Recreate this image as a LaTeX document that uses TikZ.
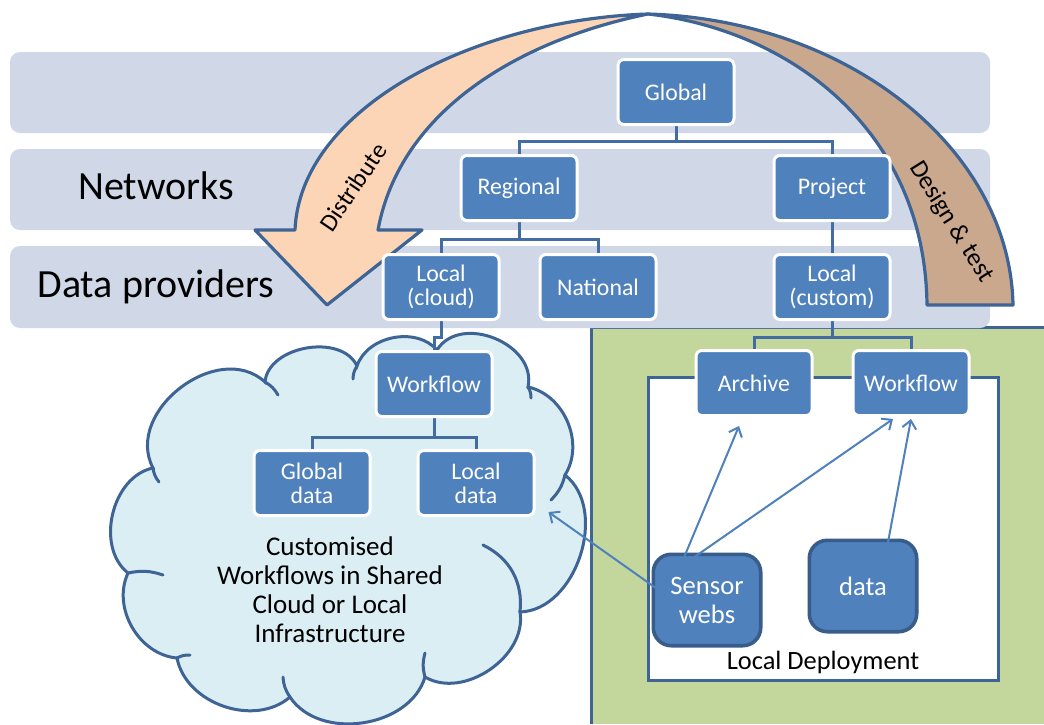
\documentclass[tikz,border=0pt]{standalone}
\usepackage{fontspec}
\setmainfont{Carlito}
\usetikzlibrary{arrows.meta,calc,positioning}
\definecolor{tierfill}{RGB}{208,216,232}
\definecolor{unitfill}{RGB}{79,129,189}
\definecolor{linkblue}{RGB}{66,108,162}
\definecolor{frameblue}{RGB}{62,100,150}
\definecolor{deviceedge}{RGB}{56,93,138}
\definecolor{distfill}{RGB}{251,213,181}
\definecolor{testfill}{RGB}{201,168,141}
\definecolor{sitefill}{RGB}{195,214,155}
\definecolor{cloudfill}{RGB}{219,238,244}
\tikzstyle{tier}=[
  fill=tierfill,
  rounded corners=5pt,
]
\tikzstyle{tiertext}=[
  anchor=base,
  font={\fontsize{20}{24}\selectfont},
]
\tikzstyle{unit}=[
  rectangle,
  rounded corners=3pt,
  draw=white,
  line width=1.5pt,
  fill=unitfill,
  text=white,
  align=center,
  inner sep=1pt,
  minimum width=58pt,
  minimum height=32.5pt,
  font={\fontsize{11.9}{12}\selectfont},
]
\tikzstyle{device}=[
  unit,
  draw=deviceedge,
  line width=1.8pt,
  rounded corners=9pt,
  minimum width=53.7pt,
  minimum height=45.7pt,
  font={\fontsize{13.3}{14.5}\selectfont},
]
\tikzstyle{link}=[
  draw=linkblue,
  line width=1.5pt,
]
\tikzstyle{feed}=[
  ->,
  draw=unitfill,
  line width=1pt,
]
\tikzstyle{sweep}=[
  draw=frameblue,
  line width=1.6pt,
  line join=round,
]
\tikzstyle{puff}=[
  draw=frameblue,
  line width=1.5pt,
  line cap=round,
]
\tikzset{
  >={Straight Barb[length=4pt,width=7pt]},
}
\pgfdeclarelayer{back}
\pgfsetlayers{back,main}

\begin{document}
\begin{tikzpicture}[x=0.5pt, y=-0.5pt]
  \useasboundingbox (0,0) rectangle (1044,724);
  % tiers
  \node [unit] (global) at (676,92) {Global};
  \node [unit] (regional) at (519,188) {Regional};
  \node [unit] (project) at (832,188) {Project};
  \node [unit] (localcloud) at (441,287) {Local\\(cloud)};
  \node [unit] (national) at (598,287) {National};
  \node [unit] (localcustom) at (832,287) {Local\\(custom)};
  % cloud side
  \node [unit] (workflowa) at (434,384) {Workflow};
  \node [unit] (globaldata) at (312,483) {Global\\data};
  \node [unit] (localdata) at (476,483) {Local\\data};
  % local deployment
  \node [unit] (archive) at (754,383) {Archive};
  \node [unit] (workflowb) at (911,383) {Workflow};
  \node [device] (sensor) at (707,600) {Sensor\\webs};
  \node [device] (data) at (863,586) {data};

  \begin{pgfonlayer}{back}
    \fill [sitefill] (591,327) rectangle (1044,724);
    \draw [frameblue, line width=1.5pt] (591,724) -- (591,327) -- (1044,327);
    \draw [frameblue, line width=1.5pt, fill=white] (648,377) rectangle (998,680);
    \draw [puff, fill=cloudfill] (153,468)
      to[bend left=80, looseness=1.15] (265,382)
      to[bend left=75] (357,366)
      to[bend left=60] (437,350)
      to[bend left=80, looseness=1.15] (528,387)
      to[bend left=55] (565,475)
      to[bend left=70] (520,612)
      to[bend left=65] (425,677)
      to[bend left=65] (290,697)
      to[bend left=60] (177,658)
      to[bend left=55] (128,573)
      to[bend left=65] (153,468) -- cycle;
    \draw [puff] (153,468) to[bend right=15] (159,482);
    \draw [puff] (265,382) to[bend left=15] (278,395);
    \draw [puff] (357,366) to[bend right=15] (353,379);
    \draw [puff] (528,387) to[bend left=15] (531,398);
    \draw [puff] (565,475) to[bend left=15] (551,500);
    \draw [puff] (520,612) to[bend right=35] (483,545);
    \draw [puff] (425,677) to[bend left=15] (425,653);
    \draw [puff] (290,697) to[bend left=15] (283,677);
    \draw [puff] (177,658) to[bend left=15] (190,655);
    \draw [puff] (128,573) to[bend left=15] (163,575);
    \fill [tier] (10,52) rectangle (990,133);
    \fill [tier] (10,149) rectangle (990,230);
    \fill [tier] (10,246) rectangle (990,328);
    \draw [sweep, fill=distfill] (648,14)
      .. controls (470,20) and (300,110) .. (295,230)
      -- (255,230) -- (327,305) -- (422,230) -- (378,230)
      .. controls (400,110) and (520,40) .. (648,14) -- cycle;
    \draw [sweep, fill=testfill] (648,14)
      .. controls (850,20) and (1010,150) .. (1013,305)
      -- (927,305)
      .. controls (925,130) and (790,30) .. (648,14) -- cycle;
    \node [rotate=56, font={\fontsize{12.5}{14}\selectfont}] (distribute) at (353,187) {Distribute};
    \node [rotate=-58, font={\fontsize{12.7}{14}\selectfont}] (designtest) at (951,222) {Design \& test};
    \draw [link] (global.south) -- ++(0,15) coordinate (gsplit) -| (regional.north);
    \draw [link] (gsplit) -| (project.north);
    \draw [link] (regional.south) -- ++(0,17) coordinate (rsplit) -| (localcloud.north);
    \draw [link] (rsplit) -| (national.north);
    \draw [link] (project.south) -- (localcustom.north);
    \draw [link] (localcloud.south) -- ++(0,16) -| (workflowa.north);
    \draw [link] (workflowa.south) -- ++(0,19) coordinate (wsplit) -| (globaldata.north);
    \draw [link] (wsplit) -| (localdata.north);
    \draw [link] (localcustom.south) -- ++(0,16) coordinate (csplit) -| (archive.north);
    \draw [link] (csplit) -| (workflowb.north);
  \end{pgfonlayer}

  \draw [feed] ($(sensor.center)+(-30,3)$) -- ($(localdata.south east)+(13,-5)$);
  \draw [feed] ($(sensor.center)+(-27,-33)$) -- ($(archive.south)+(-15,9)$);
  \draw [feed] ($(sensor.center)+(-27,-33)$) -- ($(workflowb.south)+(-18,2)$);
  \draw [feed] ($(data.center)+(23,-33)$) -- ($(workflowb.south)+(0,2)$);

  \node [tiertext] (networks) at (156,199) {Networks};
  \node [tiertext] (providers) at (156,297) {Data providers};
  \node [align=center, font={\fontsize{13.5}{14.5}\selectfont}] (cloudtext) at (330,590)
    {Customised\\Workflows in Shared\\Cloud or Local\\Infrastructure};
  \node [font={\fontsize{13.2}{15}\selectfont}] (deployment) at (823,662) {Local Deployment};
\end{tikzpicture}
\end{document}
